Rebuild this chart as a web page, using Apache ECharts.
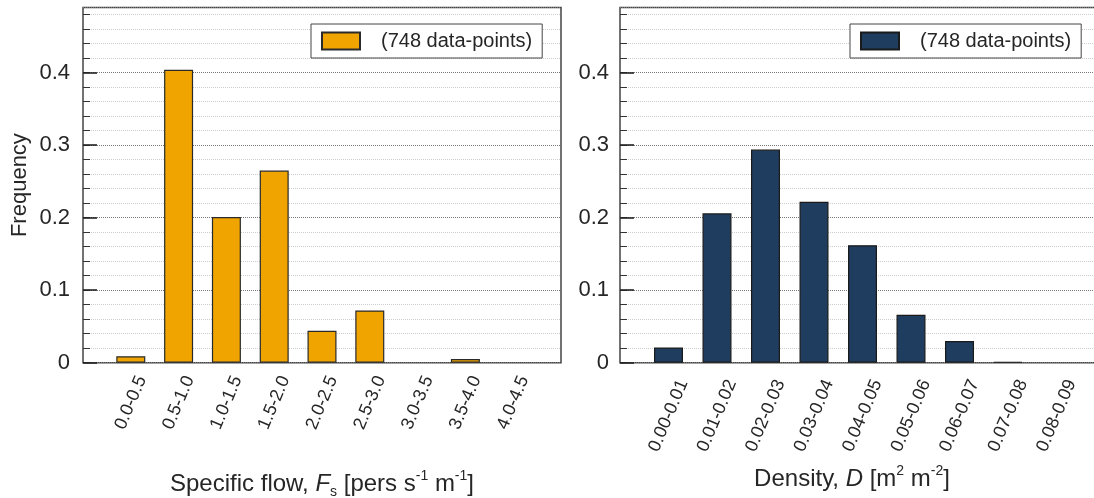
<!DOCTYPE html>
<html><head><meta charset="utf-8">
<script src="https://cdn.jsdelivr.net/npm/echarts@6/dist/echarts.min.js"></script>
<style>html,body{margin:0;padding:0;background:#fff}#c{width:1094px;height:498px}</style>
</head><body><div id="c"></div>
<script>
const flowCategories = ['0.0-0.5','0.5-1.0','1.0-1.5','1.5-2.0','2.0-2.5','2.5-3.0','3.0-3.5','3.5-4.0','4.0-4.5'];
const flowFrequency = [0.009,0.404,0.201,0.265,0.044,0.072,0,0.005,0];
const densityCategories = ['0.00-0.01','0.01-0.02','0.02-0.03','0.03-0.04','0.04-0.05','0.05-0.06','0.06-0.07','0.07-0.08','0.08-0.09'];
const densityFrequency = [0.021,0.206,0.294,0.222,0.162,0.066,0.030,0.0012,0];
const yMajorTicks = [0, 0.1, 0.2, 0.3, 0.4];
const legendText = '(748 data-points)';
const yAxisTitle = 'Frequency';
const flowTitle = '{a|Specific flow, }{i|F}{sub|s}{a| [pers s}{sup|-1}{a| m}{sup|-1}{a|]}';
const densityTitle = '{a|Density, }{i|D}{a| [m}{sup|2}{a| m}{sup|-2}{a|]}';

const FONT = '"Liberation Sans", Arial, sans-serif';
const TXT = '#262626';
const pad = arr => [' '].concat(arr, ['  ']);
const padV = arr => [null].concat(arr.map(v => (v === 0 ? null : v)), [null]);

const chart = echarts.init(document.getElementById('c'), null, {renderer: 'canvas'});

const richStyle = {
  a: {fontSize: 24, fontFamily: FONT, color: TXT, fontWeight: 'normal', lineHeight: 30},
  i: {fontSize: 24, fontFamily: FONT, color: TXT, fontWeight: 'normal', fontStyle: 'italic', lineHeight: 30},
  sup: {fontSize: 14, fontFamily: FONT, color: TXT, fontWeight: 'normal', lineHeight: 14, verticalAlign: 'top'},
  sub: {fontSize: 14, fontFamily: FONT, color: TXT, fontWeight: 'normal', lineHeight: 14, verticalAlign: 'bottom'}
};

function yLabel(v) {
  const r = Math.round(v * 10) / 10;
  if (Math.abs(v - r) > 1e-6) return '';
  return r === 0 ? '0' : r.toFixed(1);
}

function minorAxis(grid, withName, margin) {
  return {
    type: 'value', gridIndex: grid, position: 'left', min: 0, max: 0.49, interval: 0.02,
    axisLine: {show: false},
    axisTick: {show: true, inside: true, length: 7, lineStyle: {color: '#333', width: 1}},
    axisLabel: {formatter: yLabel, fontSize: 22, fontFamily: FONT, color: TXT, margin: margin, showMaxLabel: false},
    splitLine: {show: true, lineStyle: {type: 'dotted', width: 1,
      color: ['#7a7a7a', '#cdcdcd', '#cdcdcd', '#cdcdcd', '#cdcdcd']}},
    name: withName ? yAxisTitle : '', nameLocation: 'middle', nameGap: 52,
    nameTextStyle: {fontSize: 22, fontFamily: FONT, color: TXT}
  };
}
function majorAxis(grid) {
  return {
    type: 'value', gridIndex: grid, position: 'left', offset: 0, min: 0, max: 0.49, interval: 0.1,
    axisLine: {show: false},
    axisTick: {show: true, inside: true, length: 14, customValues: yMajorTicks,
      lineStyle: {color: '#222', width: 1.6}},
    axisLabel: {show: false}, splitLine: {show: false}
  };
}
function catAxis(grid, cats, margin) {
  return {
    type: 'category', gridIndex: grid, data: pad(cats), boundaryGap: false,
    axisLine: {show: false}, axisTick: {show: false},
    axisLabel: {interval: 0, rotate: 67, align: 'center', verticalAlign: 'middle',
      margin: margin, fontSize: 18, fontFamily: FONT, color: TXT},
    splitLine: {show: false}
  };
}

const option = {
  backgroundColor: '#fff',
  animation: false,
  grid: [
    {left: 83, width: 478, top: 7.5, height: 355.2, show: true, borderColor: '#444', borderWidth: 1.5,
     backgroundColor: '#fff', containLabel: false, outerBoundsMode: 'none'},
    {left: 620, width: 485, top: 7.5, height: 355.2, show: true, borderColor: '#444', borderWidth: 1.5,
     backgroundColor: '#fff', containLabel: false, outerBoundsMode: 'none'}
  ],
  xAxis: [catAxis(0, flowCategories, 40), catAxis(1, densityCategories, 53)],
  yAxis: [minorAxis(0, true, 13), majorAxis(0), minorAxis(1, false, 11), majorAxis(1)],
  legend: [
    {data: ['flow'], left: 311, top: 24, icon: 'rect', itemWidth: 38, itemHeight: 17,
     formatter: () => legendText, selectedMode: false, borderColor: '#444', borderWidth: 1,
     padding: [7, 10, 7, 10], backgroundColor: '#fff',
     textStyle: {fontSize: 20, fontFamily: FONT, color: TXT, padding: [0, 0, 0, 16]}},
    {data: ['density'], left: 850, top: 24, icon: 'rect', itemWidth: 38, itemHeight: 17,
     formatter: () => legendText, selectedMode: false, borderColor: '#444', borderWidth: 1,
     padding: [7, 10, 7, 10], backgroundColor: '#fff',
     textStyle: {fontSize: 20, fontFamily: FONT, color: TXT, padding: [0, 0, 0, 16]}}
  ],
  title: [
    {text: flowTitle, left: 322, top: 469, textAlign: 'center', padding: 0,
     textStyle: {fontWeight: 'normal', rich: richStyle}},
    {text: densityTitle, left: 852, top: 464, textAlign: 'center', padding: 0,
     textStyle: {fontWeight: 'normal', rich: richStyle}}
  ],
  series: [
    {name: 'flow', type: 'bar', xAxisIndex: 0, yAxisIndex: 0, data: padV(flowFrequency),
     barWidth: 29, itemStyle: {color: '#F0A400', borderColor: '#2a2a2a', borderWidth: 1.2}},
    {name: 'density', type: 'bar', xAxisIndex: 1, yAxisIndex: 2, data: padV(densityFrequency),
     barWidth: 29, itemStyle: {color: '#1F3D5E', borderColor: '#1a1a1a', borderWidth: 1.2}}
  ]
};
chart.setOption(option);
</script>
</body></html>
